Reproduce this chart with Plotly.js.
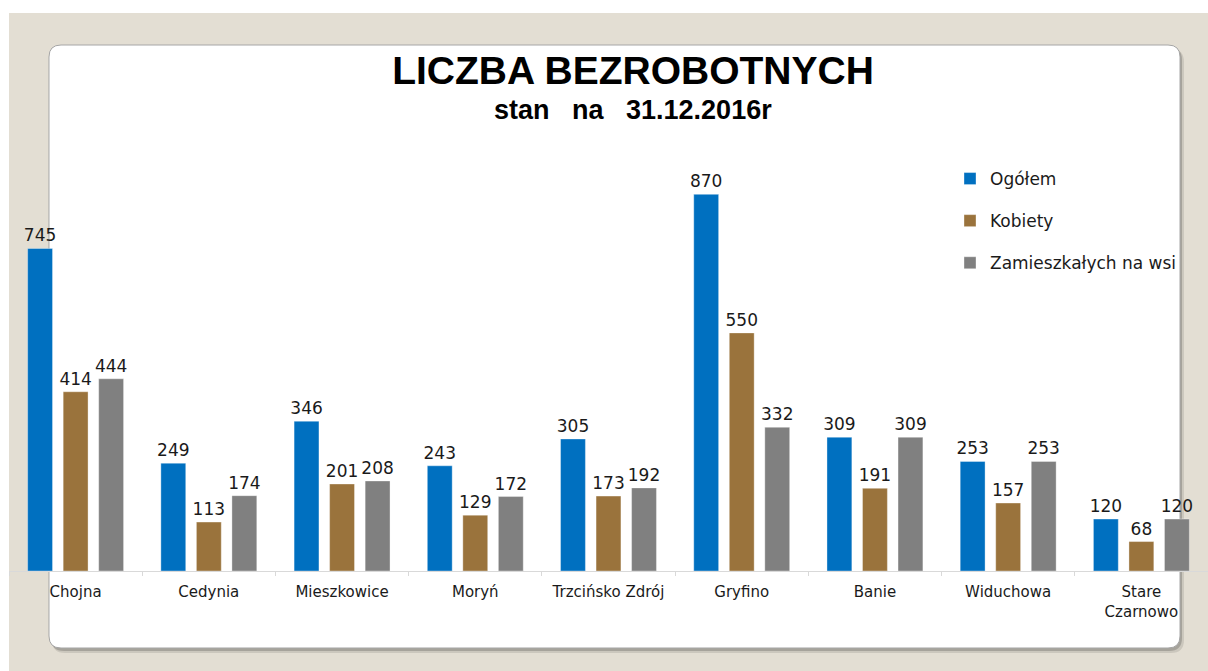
<!DOCTYPE html>
<html>
<head>
<meta charset="utf-8">
<script src="https://cdn.plot.ly/plotly-3.0.1.min.js"></script>
<style>
html,body{margin:0;padding:0;background:#ffffff;}
#chart{width:1208px;height:671px;}
</style>
</head>
<body>
<div id="chart"></div>
<script>
// ---- data ----
var categories = ["Chojna", "Cedynia", "Mieszkowice", "Moryń", "Trzcińsko Zdrój", "Gryfino", "Banie", "Widuchowa", "Stare<br>Czarnowo"];
var ogolem = [745, 249, 346, 243, 305, 870, 309, 253, 120];
var kobiety = [414, 113, 201, 129, 173, 550, 191, 157, 68];
var wies = [444, 174, 208, 172, 192, 332, 309, 253, 120];
var seriesNames = ["Ogółem", "Kobiety", "Zamieszkałych na wsi"];
var titleText = "LICZBA BEZROBOTNYCH";
var subtitleText = "stan\u00A0\u00A0\u00A0na\u00A0\u00A0\u00A031.12.2016r";

// ---- layout geometry ----
var W = 1208, H = 671;
var mL = 9, mR = 0, mT = 100, mB = 100;
var pw = W - mL - mR, ph = H - mT - mB;
function px2x(px){ return (px - mL) / pw; }
function py2y(py){ return (H - mB - py) / ph; }
function roundRect(x0, y0, x1, y1, r){
  var p = [];
  function P(cmd, x, y){ p.push(cmd + px2x(x).toFixed(5) + "," + py2y(y).toFixed(5)); }
  function Q(cx, cy, x, y){ p.push("Q" + px2x(cx).toFixed(5) + "," + py2y(cy).toFixed(5) + " " + px2x(x).toFixed(5) + "," + py2y(y).toFixed(5)); }
  P("M", x0 + r, y0);
  P("L", x1 - r, y0);
  Q(x1, y0, x1, y0 + r);
  P("L", x1, y1 - r);
  Q(x1, y1, x1 - r, y1);
  P("L", x0 + r, y1);
  Q(x0, y1, x0, y1 - r);
  P("L", x0, y0 + r);
  Q(x0, y0, x0 + r, y0);
  p.push("Z");
  return p.join(" ");
}

var colors = ["#0070C0", "#9A733C", "#808080"];
var values = [ogolem, kobiety, wies];
var traces = values.map(function(v, i){
  return {
    type: "bar",
    name: seriesNames[i],
    x: categories,
    y: v,
    text: v.map(String),
    textposition: "outside",
    constraintext: "none",
    cliponaxis: false,
    textfont: {family: "DejaVu Sans", size: 17, color: "#1a1a1a"},
    marker: {color: colors[i], line: {color: "rgba(255,255,255,0.35)", width: 1}},
    legendgroup: "g" + i,
    hoverinfo: "none"
  };
});

var layout = {
  width: W, height: H,
  margin: {l: mL, r: mR, t: mT, b: mB, pad: 0},
  paper_bgcolor: "#ffffff",
  plot_bgcolor: "rgba(0,0,0,0)",
  barmode: "group",
  bargap: 0.2,
  bargroupgap: 0.3,
  showlegend: true,
  title: {
    text: titleText,
    font: {family: "Liberation Sans, Arial", size: 39, color: "#000000", weight: 700},
    xref: "container", x: 633 / W, xanchor: "center",
    yref: "container", y: 1 - 70 / H, yanchor: "middle"
  },
  annotations: [{
    text: subtitleText,
    xref: "paper", yref: "paper",
    x: px2x(633), y: py2y(110), xanchor: "center", yanchor: "middle",
    showarrow: false,
    font: {family: "Liberation Sans, Arial", size: 27, color: "#000000", weight: 700}
  }],
  legend: {
    x: px2x(950), xanchor: "left",
    y: py2y(161), yanchor: "top",
    bgcolor: "rgba(0,0,0,0)",
    font: {family: "DejaVu Sans", size: 17, color: "#1a1a1a"},
    tracegroupgap: 17,
    orientation: "v"
  },
  xaxis: {
    type: "category",
    showline: true, linecolor: "#D9D9D9", linewidth: 1,
    ticks: "outside", tickson: "boundaries", ticklen: 4, tickcolor: "#D9D9D9",
    ticklabelstandoff: 7,
    tickfont: {family: "DejaVu Sans", size: 15, color: "#1a1a1a"},
    showgrid: false, zeroline: false,
    range: [-0.5, 8.5], fixedrange: true
  },
  yaxis: {
    range: [0, 1088],
    showgrid: false, zeroline: false, showline: false,
    showticklabels: false, ticks: "", fixedrange: true
  },
  shapes: [
    {type: "rect", xref: "paper", yref: "paper", layer: "below",
     x0: px2x(9), x1: px2x(1208), y0: py2y(13), y1: py2y(671),
     fillcolor: "#E3DED3", line: {width: 0}},
    {type: "path", xref: "paper", yref: "paper", layer: "below",
     path: roundRect(52, 49, 1184, 653, 13),
     fillcolor: "rgba(0,0,0,0.10)", line: {width: 0}},
    {type: "path", xref: "paper", yref: "paper", layer: "below",
     path: roundRect(51, 47, 1182, 651, 13),
     fillcolor: "rgba(0,0,0,0.18)", line: {width: 0}},
    {type: "path", xref: "paper", yref: "paper", layer: "below",
     path: roundRect(49, 45, 1180, 648, 12),
     fillcolor: "#ffffff", line: {color: "#A6A6A6", width: 1}}
  ]
};

Plotly.newPlot("chart", traces, layout, {displayModeBar: false, staticPlot: true});
</script>
</body>
</html>
